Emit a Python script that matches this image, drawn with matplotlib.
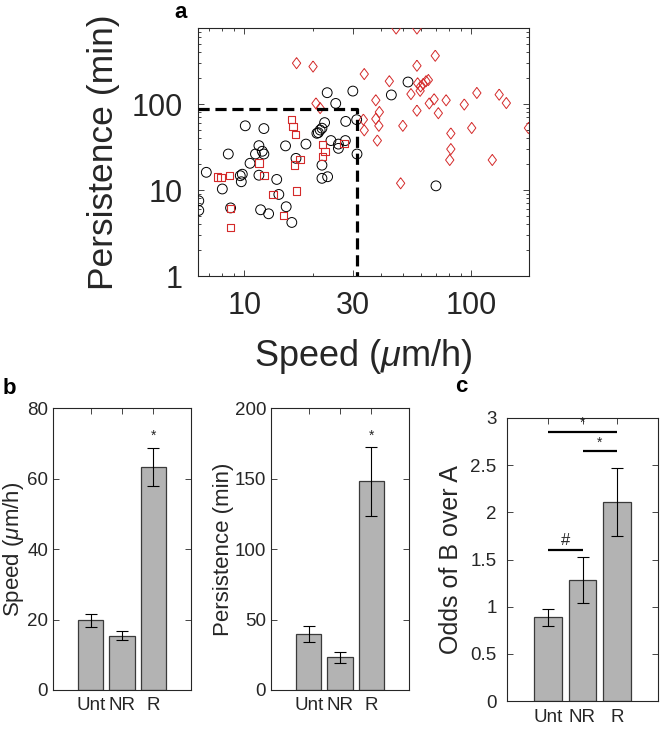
import matplotlib
matplotlib.use("Agg")
import matplotlib.pyplot as plt
import numpy as np
from matplotlib.ticker import FixedLocator, NullFormatter

plt.rcParams['font.family'] = ['Liberation Sans', 'DejaVu Sans']
plt.rcParams['mathtext.fontset'] = 'custom'
plt.rcParams['mathtext.rm'] = 'Liberation Sans'
plt.rcParams['mathtext.it'] = 'Liberation Sans:italic'

# panel a: speed (um/h) vs persistence (min)
circle_speed = [23.2, 30.1, 25.3, 52.7, 44.5, 10.1, 12.2, 22.6, 22.0, 21.6, 21.2, 20.9,
                28.0, 31.3, 24.1, 27.9, 26.0, 26.0, 18.7, 15.2, 11.6, 12.0, 12.2, 11.2,
                8.5, 31.4, 16.9, 10.6, 6.8, 9.6, 9.8, 9.7, 11.6, 8.0, 13.9, 14.2, 15.3,
                16.2, 11.8, 12.8, 8.7, 6.3, 6.3, 22.0, 22.0, 23.3, 70.0]
circle_pers = [136, 142, 102, 181, 128, 56, 52, 61, 52.5, 50, 46.6, 45.8,
               63, 66, 37.7, 37.7, 34.3, 30.6, 34.3, 32.7, 32.9, 28.3, 26.3, 26.3,
               26.3, 26.3, 23.4, 20.5, 16.1, 14.7, 15.3, 12.5, 14.9, 10.3, 13.3, 8.9, 6.4,
               4.2, 5.9, 5.3, 6.2, 7.5, 5.8, 19.5, 13.7, 14.3, 11.2]

square_speed = [16.2, 16.4, 16.8, 22.1, 22.7, 22.1, 27.5, 17.6, 16.7, 11.6, 12.2, 7.6,
                7.9, 8.6, 13.4, 17.0, 8.7, 14.9, 8.7]
square_pers = [66, 55, 44, 34, 28, 24.5, 35, 22.5, 19.5, 20.7, 14.9, 14.2,
               13.9, 14.7, 8.9, 9.8, 6.1, 5.1, 3.7]

diamond_speed = [46.7, 57.7, 17.0, 20.1, 33.8, 69.5, 57.7, 43.6, 58.1, 59.9, 61.5, 63.3,
                 64.8, 54.3, 59.6, 38.0, 68.7, 65.4, 77.6, 93.3, 106, 133, 143, 39.4,
                 57.7, 71.7, 38.0, 33.8, 39.2, 50.0, 38.6, 81.4, 100.6, 179, 81.4, 80.5,
                 124, 48.9, 20.7, 21.6, 33.5]
diamond_pers = [760, 760, 300, 274, 224, 366, 280, 185, 175, 161, 172, 185,
                191, 131, 143, 111, 114, 102, 111, 99, 135, 129, 103, 81,
                84, 78.5, 67.4, 49.6, 56, 56, 37.7, 45.6, 52.8, 52.8, 30, 22.4,
                22.4, 12, 102, 90, 66]

speed_cut = 31.5
pers_cut = 88

# panel b / c
groups = ['Unt', 'NR', 'R']
speed_mean = [19.8, 15.4, 63.2]
speed_err = [1.85, 1.25, 5.35]
pers_mean = [39.5, 23.2, 148]
pers_err = [5.7, 3.7, 24.4]
odds_mean = [0.886, 1.283, 2.108]
odds_err = [0.087, 0.24, 0.36]

axc = '#262626'
red = '#d42a2a'
bar_gray = '#b3b3b3'
diamond = [(0, 1), (0.75, 0), (0, -1), (-0.75, 0), (0, 1)]

fig = plt.figure(figsize=(6.62, 7.32), dpi=100)


def style_axes(ax, size, pad):
    for s in ax.spines.values():
        s.set_color(axc)
        s.set_linewidth(0.8)
    ax.tick_params(which='both', direction='in', top=True, right=True,
                   colors=axc, labelsize=size, width=0.6, pad=pad)
    ax.tick_params(which='major', length=4)
    ax.tick_params(which='minor', length=2.5)


# ---- panel a ----
ax = fig.add_axes([198/662, 1-276/732, 331/662, 248/732])
ax.set_xscale('log')
ax.set_yscale('log')
ax.scatter(circle_speed, circle_pers, s=50, facecolors='none', edgecolors='black', linewidths=0.7, zorder=3)
ax.scatter(square_speed, square_pers, s=28, marker='s', facecolors='none', edgecolors=red, linewidths=0.8, zorder=3)
ax.scatter(diamond_speed, diamond_pers, s=64, marker=diamond, facecolors='none', edgecolors=red, linewidths=0.7, zorder=3)
ax.plot([6.25, speed_cut, speed_cut], [pers_cut, pers_cut, 1], color='black', lw=2.3,
        linestyle=(0, (3.5, 1.8)), zorder=4)
ax.set_xlim(6.25, 180)
ax.set_ylim(1, 770)
ax.xaxis.set_major_locator(FixedLocator([10, 30, 100]))
ax.xaxis.set_minor_locator(FixedLocator([7, 8, 9, 20, 40, 50, 60, 70, 80, 90]))
ax.set_xticklabels(['10', '30', '100'])
ax.xaxis.set_minor_formatter(NullFormatter())
ax.yaxis.set_major_locator(FixedLocator([1, 10, 100]))
ax.yaxis.set_minor_locator(FixedLocator([2, 3, 4, 5, 6, 7, 8, 9, 20, 30, 40, 50, 60, 70, 80, 90,
                                         200, 300, 400, 500, 600, 700]))
ax.set_yticklabels(['1', '10', '100'])
ax.yaxis.set_minor_formatter(NullFormatter())
style_axes(ax, 22, 11)
ax.set_xlabel(r'Speed ($\mu$m/h)', fontsize=26, color=axc, labelpad=11)
ax.set_ylabel('Persistence (min)', fontsize=25.5, color=axc, labelpad=8)


def bar_panel(rect, means, errs, ylim, yticks, ylabel, lsize, ypad, xpad, lpad):
    ax = fig.add_axes(rect)
    x = np.arange(1, len(groups) + 1)
    ax.bar(x, means, width=0.8, color=bar_gray, edgecolor='#3a3a3a', linewidth=0.9, zorder=2)
    ax.errorbar(x, means, yerr=errs, fmt='none', ecolor='black', elinewidth=0.8,
                capsize=4, capthick=0.8, zorder=3)
    ax.set_xlim(-0.2, 4.2)
    ax.set_ylim(*ylim)
    ax.set_xticks(x)
    ax.set_xticklabels(groups)
    ax.set_yticks(yticks)
    style_axes(ax, 13.5, ypad)
    ax.tick_params(axis='x', pad=xpad)
    ax.set_ylabel(ylabel, fontsize=lsize, color=axc, labelpad=lpad)
    return ax


axb1 = bar_panel([53/662, 1-690/732, 138/662, 282/732], speed_mean, speed_err, (0, 80),
                 [0, 20, 40, 60, 80], r'Speed ($\mu$m/h)', 16, 3.5, 5, 0.5)
axb1.text(3, speed_mean[2] + speed_err[2] + 1.5, '*', ha='center', va='bottom', fontsize=10, color=axc)
axb1.set_yticklabels(['0', '20', '40', '60', '80'])

axb2 = bar_panel([271/662, 1-690/732, 138/662, 282/732], pers_mean, pers_err, (0, 200),
                 [0, 50, 100, 150, 200], 'Persistence (min)', 16, 3.5, 5, 0.5)
axb2.text(3, pers_mean[2] + pers_err[2] + 3, '*', ha='center', va='bottom', fontsize=10, color=axc)

axc_ = bar_panel([507/662, 1-701/732, 151/662, 283/732], odds_mean, odds_err, (0, 3),
                 [0, 0.5, 1, 1.5, 2, 2.5, 3], 'Odds of B over A', 18, 7.5, 6, 5)
axc_.set_yticklabels(['0', '0.5', '1', '1.5', '2', '2.5', '3'])
for x0, x1, yl, mark in [(1, 3, 2.85, '*'), (2, 3, 2.646, '*'), (1, 2, 1.6, '#')]:
    axc_.plot([x0, x1], [yl, yl], color='black', lw=1.6, solid_capstyle='butt', zorder=4)
    axc_.text((x0 + x1) / 2, yl + 0.02, mark, ha='center', va='bottom',
              fontsize=10 if mark == '*' else 12, color=axc)

fig.text(174/662, 1-12/732, 'a', fontsize=16, fontweight='bold', ha='left', va='center')
fig.text(3/662, 1-388/732, 'b', fontsize=16, fontweight='bold', ha='left', va='center')
fig.text(455/662, 1-386/732, 'c', fontsize=16, fontweight='bold', ha='left', va='center')

fig.savefig('out.png', dpi=100)
